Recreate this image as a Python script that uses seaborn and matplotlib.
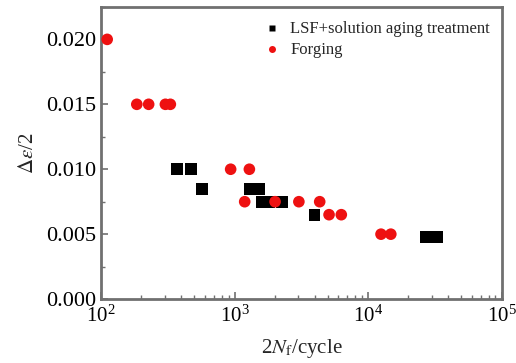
import matplotlib
matplotlib.use("Agg")
import matplotlib.pyplot as plt
import seaborn as sns
import pandas as pd
from matplotlib.ticker import MultipleLocator, LogLocator

# data
lsf_cycles = [372, 472, 570, 1310, 1530, 1610, 1820, 2270, 3980, 27000, 30000, 33000]
lsf_strain = [0.0100, 0.0100, 0.0085, 0.0085, 0.0085, 0.0075, 0.0075, 0.0075,
              0.0065, 0.0048, 0.0048, 0.0048]
forging_cycles = [111, 185, 227, 303, 330, 934, 1290, 1190, 2010, 3030, 4340,
                  5100, 6300, 12500, 14800]
forging_strain = [0.020, 0.015, 0.015, 0.015, 0.015, 0.010, 0.010, 0.0075, 0.0075,
                  0.0075, 0.0075, 0.0065, 0.0065, 0.0050, 0.0050]
series_names = ["LSF+solution aging treatment", "Forging"]

df = pd.DataFrame({
    "cycles": lsf_cycles + forging_cycles,
    "strain": lsf_strain + forging_strain,
    "group": [series_names[0]] * len(lsf_cycles) + [series_names[1]] * len(forging_cycles),
})

sns.set_style("ticks")
plt.rcParams["font.family"] = ["Liberation Serif", "DejaVu Serif"]
plt.rcParams["mathtext.fontset"] = "stix"

fig = plt.figure(figsize=(5.16, 3.63), dpi=100)
ax = fig.add_axes([0.196, 0.176, 0.776, 0.805])

sns.scatterplot(data=df, x="cycles", y="strain", hue="group", style="group",
                palette={series_names[0]: "black", series_names[1]: "#ee1111"},
                markers={series_names[0]: "s", series_names[1]: "o"},
                s=70, edgecolor="none", ax=ax, clip_on=False, zorder=3)

ax.set_xscale("log")
ax.set_xlim(100, 1e5)
ax.set_ylim(0, 0.0225)
ax.yaxis.set_major_locator(MultipleLocator(0.005))
ax.yaxis.set_minor_locator(MultipleLocator(0.0025))
ax.xaxis.set_minor_locator(LogLocator(base=10, subs=range(2, 10)))
ax.yaxis.set_major_formatter(matplotlib.ticker.FormatStrFormatter("%.3f"))

for side in ax.spines.values():
    side.set_color("#707070")
    side.set_linewidth(2)
ax.tick_params(which="both", direction="in", colors="#707070", labelcolor="black",
               labelsize=16, top=False, right=False)
ax.tick_params(which="major", length=5, width=1.2)
ax.tick_params(which="minor", length=3, width=1)
ax.tick_params(axis="x", pad=5, labelsize=15)

ax.set_xlabel("2$N$$_{\\rm f}$/cycle", fontsize=15, labelpad=7)
ax.set_ylabel("$\\Delta\\varepsilon$/2", fontsize=15, labelpad=6)

leg = ax.legend(loc="upper right", frameon=False, fontsize=12, markerscale=0.6,
                handletextpad=0.1, borderaxespad=0.3, labelspacing=0.3,
                bbox_to_anchor=(1.0, 0.99))

fig.savefig("out.png", dpi=100)
plt.close(fig)
